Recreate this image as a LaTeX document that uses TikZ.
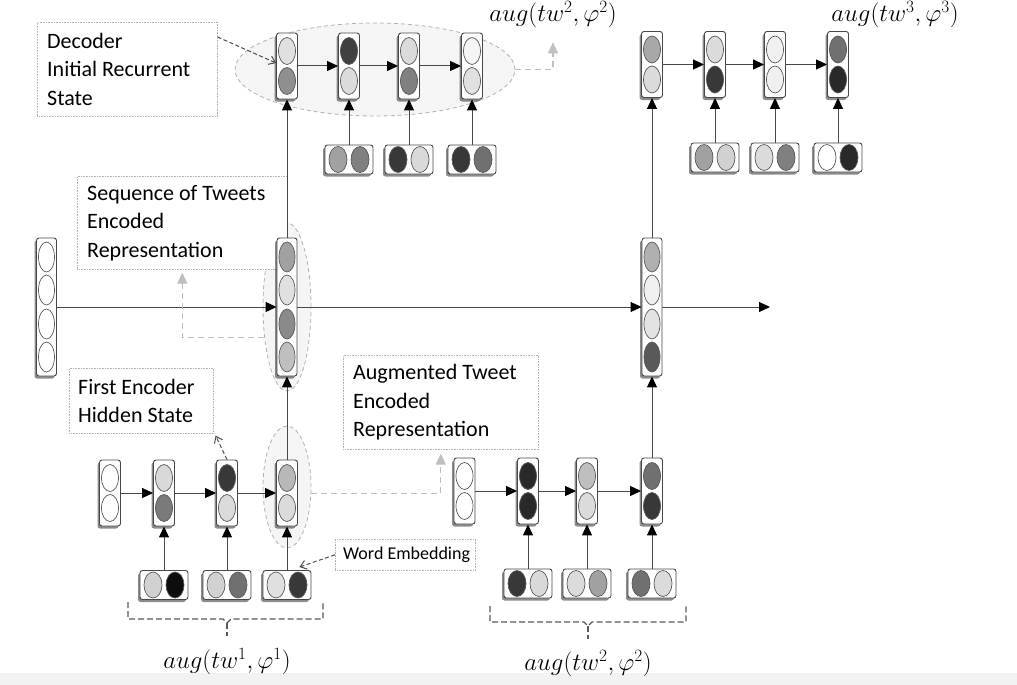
\documentclass[tikz,border=0pt]{standalone}
\usepackage{fontspec}
\setmainfont{Carlito}
\usetikzlibrary{arrows.meta,shapes.geometric,shadows,calc}
\tikzset{
 cellbox/.style={draw=black!72, fill=white, rounded corners=2.5pt, line width=0.9pt, inner sep=0pt,
   drop shadow={shadow xshift=-2pt, shadow yshift=-2.5pt, opacity=0.45, fill=black}},
 vbox/.style={cellbox, minimum width=21pt, minimum height=66pt},
 hbox/.style={cellbox, minimum width=48pt, minimum height=29pt},
 qbox/.style={cellbox, minimum width=20pt, minimum height=138pt},
 oval/.style={ellipse, draw=black!65, line width=0.7pt, minimum width=17pt, minimum height=27pt, inner sep=0pt},
 hoval/.style={oval, minimum width=18pt, minimum height=26pt},
 qoval/.style={oval, minimum width=16pt, minimum height=30pt},
 grp/.style={ellipse, draw=black!30, dash pattern=on 4pt off 3pt, fill=black!4, line width=0.8pt, inner sep=0pt},
 link/.style={draw=black!72, line width=1pt, -{Triangle[length=11pt,width=10pt,color=black]}},
 notebox/.style={draw=black!30, densely dotted, line width=0.6pt, fill=white, anchor=north west},
 notetext/.style={align=left, anchor=west, inner sep=0pt, font=\fontsize{22}{28.5}\selectfont, text=black},
 darr/.style={draw=black!70, dash pattern=on 4pt off 2.5pt, line width=1pt, -{Straight Barb[length=6pt,width=9pt]}},
 larr/.style={draw=black!25, dash pattern=on 6pt off 4pt, line width=1.1pt, -{Triangle[length=11pt,width=10pt]}},
 bracepath/.style={draw=black!65, dash pattern=on 6pt off 3pt, line width=1.1pt},
 mathlbl/.style={font=\fontsize{25}{30}\selectfont, text=black, inner sep=0pt}
}
\newcommand\vcell[5]{%
 \node[vbox] (#1) at (#2,#3) {};
 \node[oval, fill=#4] (#1-a) at ([yshift=15pt]#1.center) {};
 \node[oval, fill=#5] (#1-b) at ([yshift=-15pt]#1.center) {};}
\newcommand\hcell[5]{%
 \node[hbox] (#1) at (#2,#3) {};
 \node[hoval, fill=#4] (#1-a) at ([xshift=-11pt]#1.center) {};
 \node[hoval, fill=#5] (#1-b) at ([xshift=11pt]#1.center) {};}
\newcommand\qcell[7]{%
 \node[qbox] (#1) at (#2,#3) {};
 \node[qoval, fill=#4] (#1-a) at ([yshift=50pt]#1.center) {};
 \node[qoval, fill=#5] (#1-b) at ([yshift=17pt]#1.center) {};
 \node[qoval, fill=#6] (#1-c) at ([yshift=-17pt]#1.center) {};
 \node[qoval, fill=#7] (#1-d) at ([yshift=-50pt]#1.center) {};}
\begin{document}
\begin{tikzpicture}[x=1pt,y=-1pt]
\useasboundingbox (0,0) rectangle (1017,685);
\fill[black!5] (0,673) rectangle (1017,685);

% grouping ellipses
\node[grp, minimum width=280pt, minimum height=93pt] (e1) at (375,69.5) {};
\node[grp, minimum width=48pt, minimum height=168pt] (em) at (287,307) {};
\node[grp, minimum width=48pt, minimum height=122pt] (el) at (287,487) {};

% notes
\node[notebox, minimum width=180pt, minimum height=94pt] (declbl) at (37,22) {};
\node[notetext] (dectxt) at ([xshift=10pt]declbl.west) {Decoder\\Initial Recurrent\\State};
\node[notebox, minimum width=210pt, minimum height=93pt] (seqlbl) at (77,176) {};
\node[notetext] (seqtxt) at ([xshift=10pt]seqlbl.west) {Sequence of Tweets\\Encoded\\Representation};
\node[notebox, minimum width=144pt, minimum height=65pt] (fel) at (69,368) {};
\node[notetext] (feltxt) at ([xshift=9pt]fel.west) {First Encoder\\Hidden State};
\node[notebox, minimum width=195pt, minimum height=94pt] (auglbl) at (343,355) {};
\node[notetext] (augtxt) at ([xshift=10pt]auglbl.west) {Augmented Tweet\\Encoded\\Representation};
\node[notebox, minimum width=140pt, minimum height=31pt] (wel) at (335,539) {};
\node[notetext, font=\fontsize{18}{22}\selectfont] (weltxt) at ([xshift=8pt]wel.west) {Word Embedding};

% decoder 1
\vcell{d1}{287}{66}{black!12}{black!44}
\vcell{d2}{349}{66}{black!75}{black!14}
\vcell{d3}{409}{66}{black!14}{black!50}
\vcell{d4}{472}{66}{black!4}{black!12}
\hcell{di1}{349}{159.5}{black!37}{black!50}
\hcell{di2}{409}{159.5}{black!78}{black!15}
\hcell{di3}{472}{159.5}{black!78}{black!56}

% decoder 2
\vcell{t1}{652}{64.5}{black!34}{black!14}
\vcell{t2}{715}{64.5}{black!14}{black!78}
\vcell{t3}{775}{64.5}{black!6}{black!6}
\vcell{t4}{838}{64.5}{black!56}{black!84}
\hcell{ti1}{715}{157.5}{black!37}{black!18}
\hcell{ti2}{775}{157.5}{black!14}{black!50}
\hcell{ti3}{838}{157.5}{white}{black!84}

% big vectors
\qcell{L}{46.5}{307}{white}{white}{white}{white}
\qcell{M}{287}{307}{black!37}{black!12}{black!46}{black!25}
\qcell{R}{652}{307}{black!31}{black!6}{black!11}{black!65}

% encoder 1
\vcell{a1}{110}{493}{white}{white}
\vcell{a2}{164}{493}{black!15}{black!52}
\vcell{a3}{227}{493}{black!78}{black!14}
\vcell{a4}{287}{493}{black!28}{black!14}
\hcell{ai1}{164}{585}{black!18}{black!95}
\hcell{ai2}{227}{585}{black!18}{black!56}
\hcell{ai3}{287}{585}{black!12}{black!78}

% encoder 2
\vcell{b1}{464.5}{491}{white}{white}
\vcell{b2}{528}{491}{black!84}{black!84}
\vcell{b3}{587}{491}{black!25}{black!14}
\vcell{b4}{652}{491}{black!56}{black!78}
\hcell{bi1}{528}{583.5}{black!78}{black!15}
\hcell{bi2}{587}{583.5}{black!14}{black!37}
\hcell{bi3}{652}{583.5}{black!56}{black!14}

% labels
\node[mathlbl] (aug2t) at (553,15) {$aug(tw^2,\varphi^2)$};
\node[mathlbl] (aug3) at (895,15) {$aug(tw^3,\varphi^3)$};
\node[mathlbl] (aug1) at (227,662) {$aug(tw^1,\varphi^1)$};
\node[mathlbl] (aug2b) at (588,664) {$aug(tw^2,\varphi^2)$};

% solid connectors
\foreach \p/\q in {d1/d2,d2/d3,d3/d4,t1/t2,t2/t3,t3/t4,a1/a2,a2/a3,a3/a4,b1/b2,b2/b3,b3/b4,
  di1/d2,di2/d3,di3/d4,ti1/t2,ti2/t3,ti3/t4,ai1/a2,ai2/a3,ai3/a4,bi1/b2,bi2/b3,bi3/b4,
  a4/M,M/d1,b4/R,R/t1,L/M,M/R}
  \draw[link] (\p) -- (\q);
\coordinate (out) at (770,307);
\draw[link] (R) -- (out);

% dashed pointers
\draw[darr] ([yshift=-15pt]declbl.north east) -- ([yshift=3pt]d1.west);
\draw[darr] (a3.north) -- ([xshift=2pt,yshift=-2pt]fel.south east);
\draw[darr] (wel.west) -- ([xshift=-12pt,yshift=3pt]ai3.north east);
\draw[larr, shorten >=14pt] (e1.east) -| (aug2t.south);
\draw[larr, shorten >=3pt] (em.233) -| (seqlbl.south);
\draw[larr, shorten >=4pt] (el.-14) -| (auglbl.south);

% braces
\draw[bracepath] (128,602) -- (128,619) -- (223,619) -- (227,623) -- (231,619) -- (323,619) -- (323,602);
\draw[bracepath] (227,623) -- (227,636);
\draw[bracepath] (490,606) -- (490,622) -- (584,622) -- (588,626) -- (592,622) -- (686,622) -- (686,606);
\draw[bracepath] (588,626) -- (588,639);
\end{tikzpicture}
\end{document}
